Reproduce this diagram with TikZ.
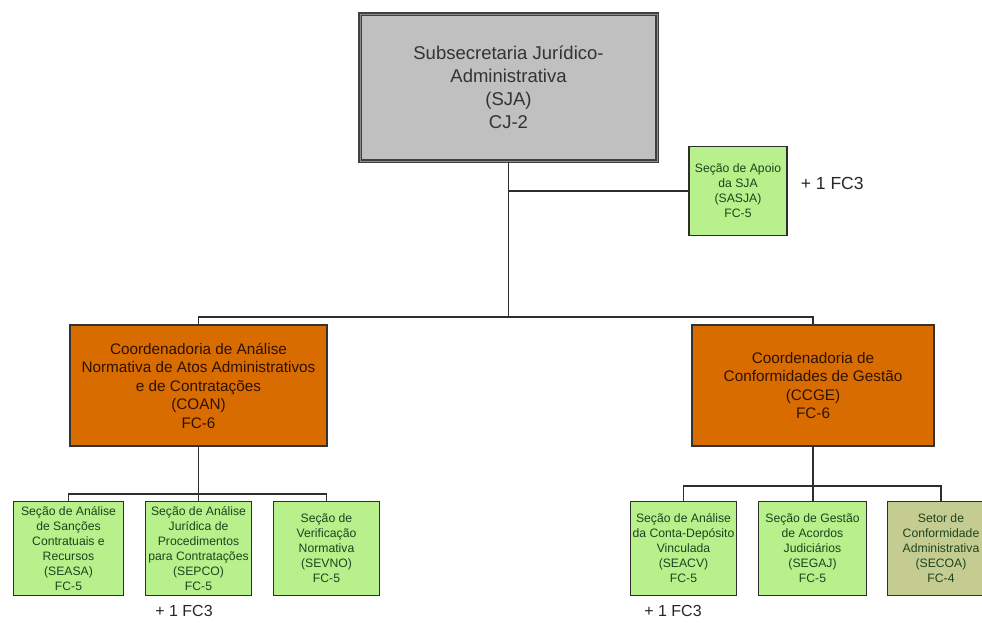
\documentclass[tikz,border=0pt]{standalone}
\usepackage{fontspec}
\setmainfont{Liberation Sans}
\usepackage{xcolor}
\usetikzlibrary{positioning}

\definecolor{boxgray}{HTML}{C0C0C0}
\definecolor{boxorange}{HTML}{D96C00}
\definecolor{boxgreen}{HTML}{B8F08C}
\definecolor{boxolive}{HTML}{C5CC92}
\definecolor{txtbrown}{HTML}{2E1200}
\definecolor{txtgreen}{HTML}{1E441E}
\definecolor{linegray}{HTML}{2E2E2E}

\begin{document}
\begin{tikzpicture}[
  x=1pt, y=-1pt,
  unit/.style={rectangle, draw=linegray, align=center, inner sep=0pt},
  head/.style={unit, fill=boxgray, draw=black!75, line width=1.6pt,
    double=black!45, double distance=0.6pt,
    minimum width=297pt, minimum height=147pt, text=black!80,
    font=\fontsize{18.5}{23}\selectfont},
  coord/.style={unit, fill=boxorange, draw=black!80, line width=1.8pt,
    minimum height=121pt, text=txtbrown,
    font=\fontsize{15.3}{18.5}\selectfont},
  sect/.style={unit, fill=boxgreen, line width=1.3pt,
    minimum height=94pt, text=txtgreen,
    font=\fontsize{12.2}{15}\selectfont},
  sector/.style={sect, fill=boxolive},
  extra/.style={inner sep=0pt, text=black!85},
  link/.style={draw=linegray, line width=1.5pt}
]
\useasboundingbox (0,0) rectangle (982,622);
\clip (0,0) rectangle (982,622);

% top level
\node[head] (sja) at (508.5,87.5)
  {Subsecretaria Jurídico-\\Administrativa\\(SJA)\\CJ-2};
\node[sect, minimum width=98pt, minimum height=89pt] (sasja) at (738,191)
  {Seção de Apoio\\da SJA\\(SASJA)\\FC-5};
\node[extra, font=\fontsize{17.5}{21}\selectfont, right=13pt of sasja, yshift=8pt] (fcsasja) {+ 1 FC3};

% coordinations
\node[coord, minimum width=257pt] (coan) at (198.5,385.5)
  {Coordenadoria de Análise\\Normativa de Atos Administrativos\\e de Contratações\\(COAN)\\FC-6};
\node[coord, minimum width=242pt] (ccge) at (813,385.5)
  {Coordenadoria de\\Conformidades de Gestão\\(CCGE)\\FC-6};

% sections
\node[sect, minimum width=110pt] (seasa) at (68.5,548.5)
  {Seção de Análise\\de Sanções\\Contratuais e\\Recursos\\(SEASA)\\FC-5};
\node[sect, minimum width=106pt] (sepco) at (198.5,548.5)
  {Seção de Análise\\Jurídica de\\Procedimentos\\para Contratações\\(SEPCO)\\FC-5};
\node[sect, minimum width=106pt] (sevno) at (326.5,548.5)
  {Seção de\\Verificação\\Normativa\\(SEVNO)\\FC-5};
\node[sect, minimum width=106pt] (seacv) at (683.5,548.5)
  {Seção de Análise\\da Conta-Depósito\\Vinculada\\(SEACV)\\FC-5};
\node[sect, minimum width=108pt] (segaj) at (812.5,548.5)
  {Seção de Gestão\\de Acordos\\Judiciários\\(SEGAJ)\\FC-5};
\node[sector, minimum width=107pt] (secoa) at (941,548.5)
  {Setor de\\Conformidade\\Administrativa\\(SECOA)\\FC-4};

\node[extra, font=\fontsize{16}{19}\selectfont] (fcsepco) at (184,611) {+ 1 FC3};
\node[extra, font=\fontsize{16}{19}\selectfont] (fcseacv) at (673,611) {+ 1 FC3};

% connectors
\coordinate (topbus) at (508.5,317);
\coordinate (lbus) at (198.5,494);
\coordinate (rbus) at (813,486);
\draw[link] (sja.south) -- (topbus);
\draw[link] (sasja.west) -- (sasja.west -| sja.south);
\draw[link] (coan.north) |- (topbus) -| (ccge.north);
\draw[link] (coan.south) -- (coan.south |- sepco.north);
\draw[link] (seasa.north) |- (lbus) -| (sevno.north);
\draw[link] (ccge.south) -- (ccge.south |- segaj.north);
\draw[link] (seacv.north) |- (rbus) -| (secoa.north);
\end{tikzpicture}
\end{document}
